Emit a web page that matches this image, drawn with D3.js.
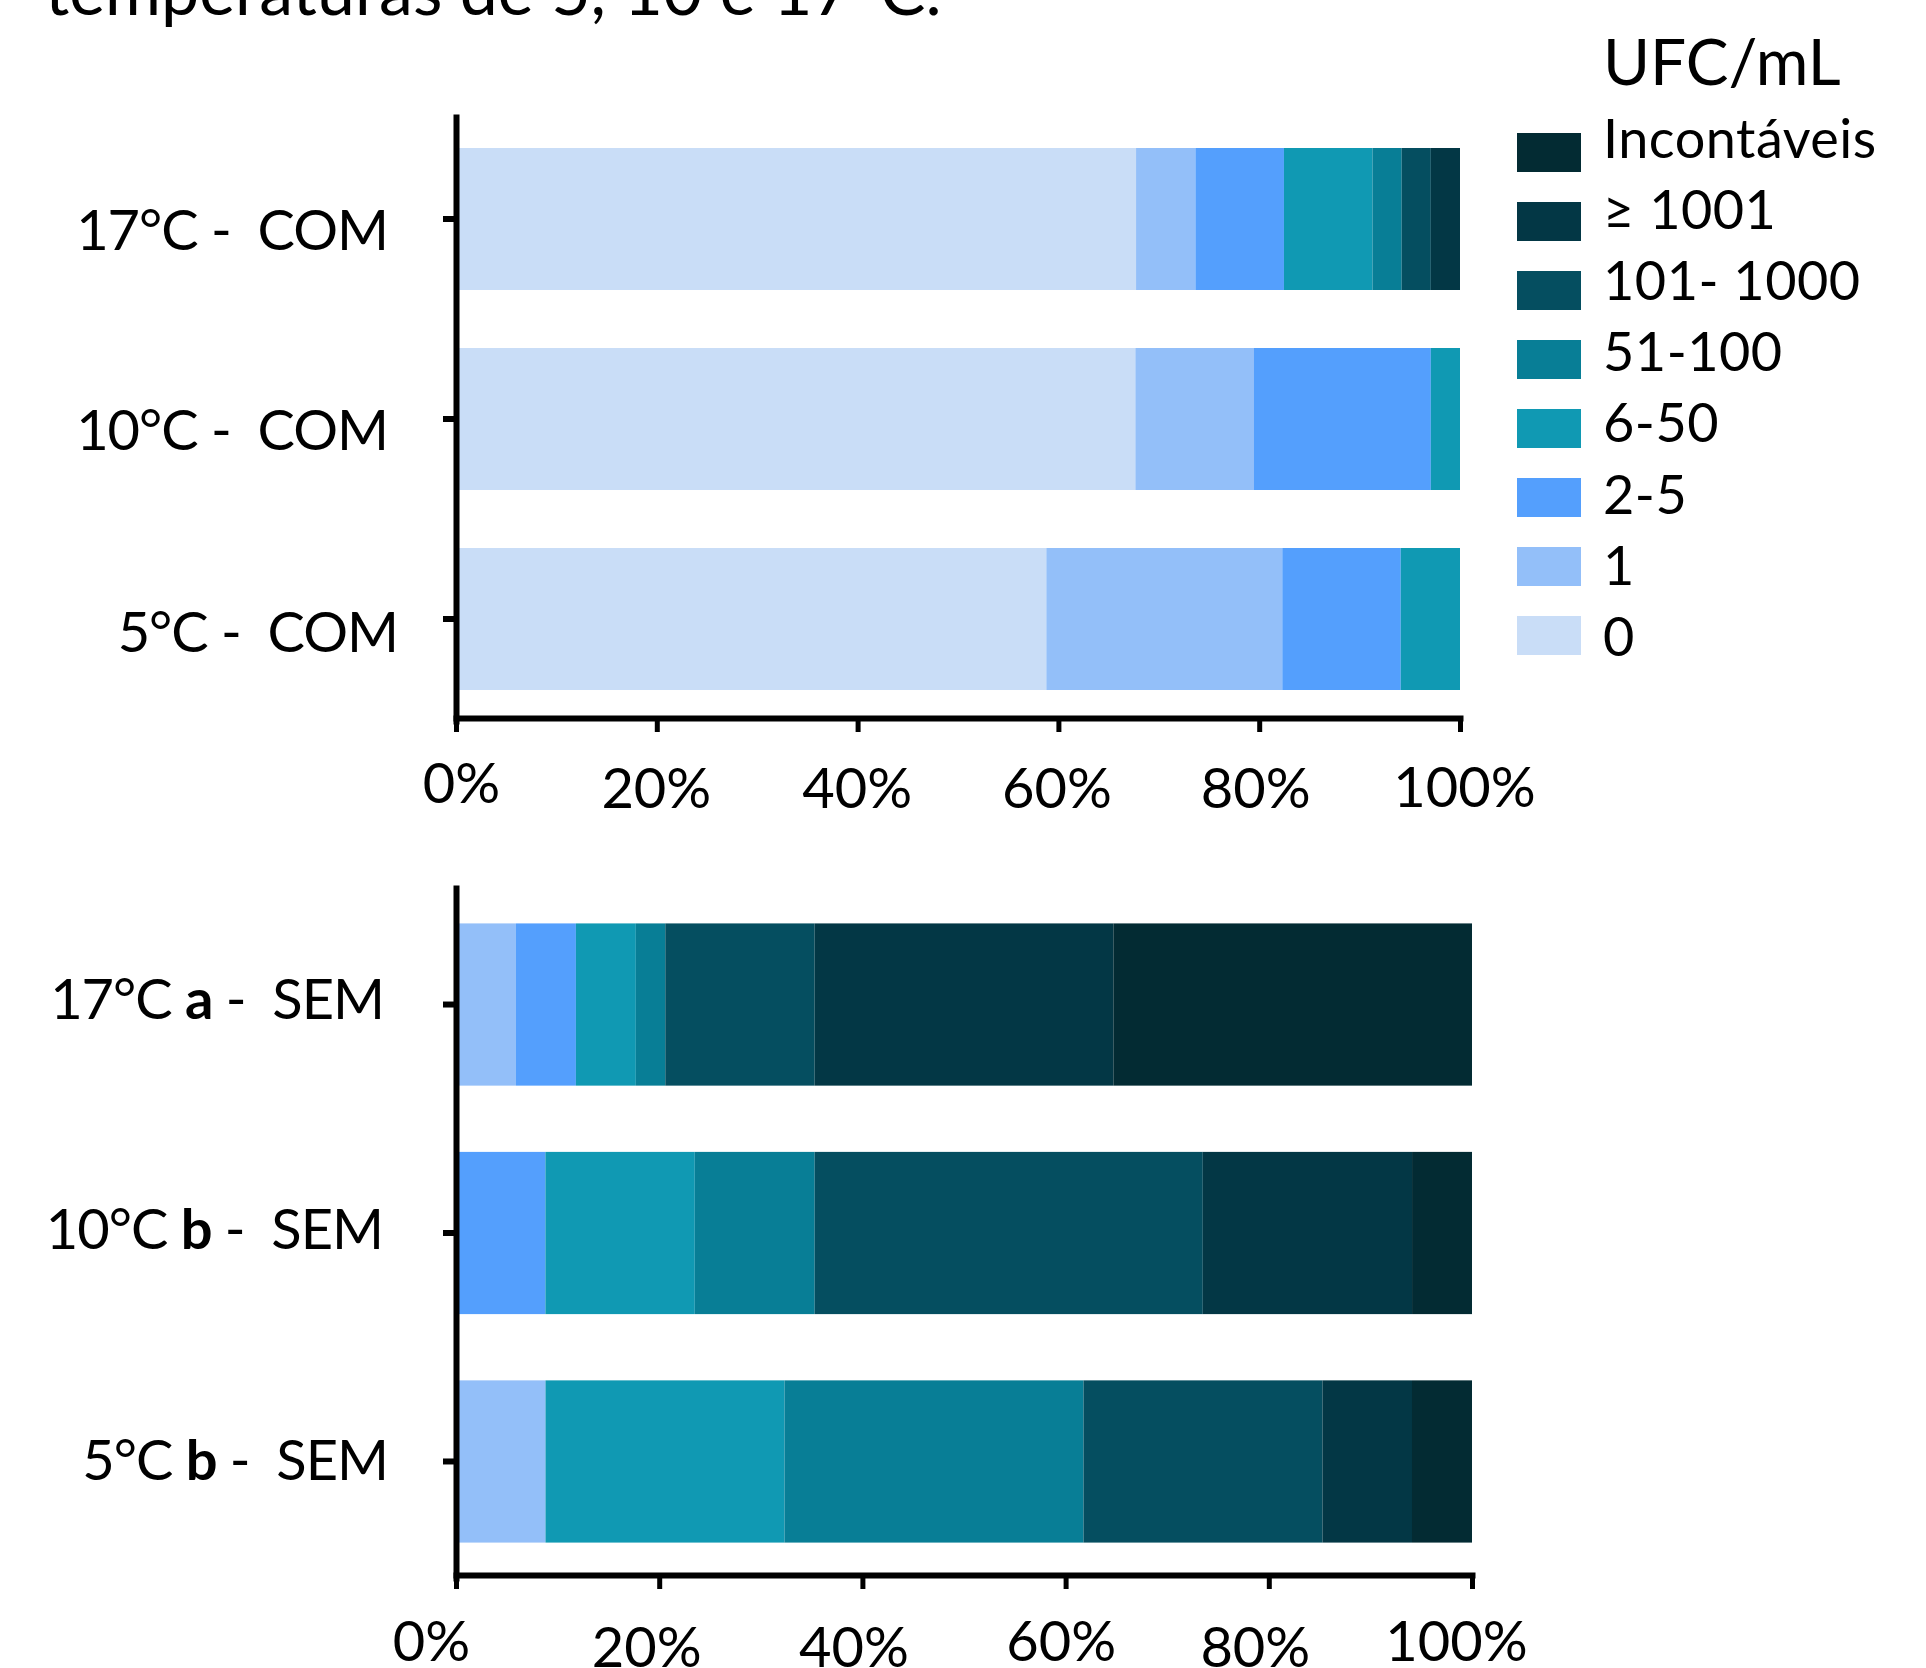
<!DOCTYPE html>
<html>
<head>
<meta charset="utf-8">
<script src="https://cdn.jsdelivr.net/npm/d3@7"></script>
<style>
  html, body { margin: 0; padding: 0; background: #fff; }
  svg { display: block; font-family: Lato, "Open Sans", sans-serif; }
  text { white-space: pre; }
</style>
</head>
<body>
<svg id="chart" width="1926" height="1668"></svg>
<script>
// UFC/mL count classes, lowest to highest
const classes = ["0", "1", "2-5", "6-50", "51-100", "101- 1000", "≥ 1001", "Incontáveis"];
const classColors = ["#c9ddf7", "#93bff9", "#549ffd", "#1099b3", "#087e96", "#054e60", "#033745", "#032b33"];

// Percentage of samples per class — COM
const comTemps = ["17°C", "10°C", "5°C"];
const com17 = [67.6, 5.9, 8.8, 8.8, 2.9, 2.9, 2.9, 0];
const com10 = [67.6, 11.8, 17.6, 2.9, 0, 0, 0, 0];
const com5  = [58.8, 23.5, 11.8, 5.9, 0, 0, 0, 0];

// Percentage of samples per class — SEM
const semTemps = ["17°C", "10°C", "5°C"];
const semGroups = ["a", "b", "b"];
const sem17 = [0, 5.9, 5.9, 5.9, 2.9, 14.7, 29.4, 35.3];
const sem10 = [0, 0, 8.8, 14.7, 11.8, 38.2, 20.6, 5.9];
const sem5  = [0, 8.8, 0, 23.5, 29.4, 23.5, 8.8, 5.9];

const percentTicks = [0, 0.2, 0.4, 0.6, 0.8, 1];

const svg = d3.select("#chart");
const color = d3.scaleOrdinal().domain(classes).range(classColors);

function toRow(id, temp, group, suffix, values) {
  const row = { id, temp, group, suffix };
  classes.forEach((c, i) => { row[c] = values[i]; });
  return row;
}

const comRows = [
  toRow("com17", comTemps[0], "", "COM", com17),
  toRow("com10", comTemps[1], "", "COM", com10),
  toRow("com5",  comTemps[2], "", "COM", com5)
];
const semRows = [
  toRow("sem17", semTemps[0], semGroups[0], "SEM", sem17),
  toRow("sem10", semTemps[1], semGroups[1], "SEM", sem10),
  toRow("sem5",  semTemps[2], semGroups[2], "SEM", sem5)
];

const stack = d3.stack().keys(classes).offset(d3.stackOffsetExpand);

function drawPanel(rows, cfg) {
  const x = d3.scaleLinear().domain([0, 1]).range(cfg.xRange);
  const y = d3.scaleBand().domain(rows.map(r => r.id)).range(cfg.yRange)
    .paddingInner(0.29).paddingOuter(0.155);
  const g = svg.append("g");

  // stacked segments
  const series = stack(rows);
  g.selectAll("g.layer").data(series).join("g")
    .attr("class", "layer")
    .attr("fill", d => color(d.key))
    .selectAll("rect").data(d => d).join("rect")
      .attr("x", d => x(d[0]))
      .attr("width", d => Math.max(0, x(d[1]) - x(d[0])))
      .attr("y", d => y(d.data.id))
      .attr("height", y.bandwidth());

  // category labels
  rows.forEach((r, i) => {
    const t = g.append("text")
      .attr("x", x(0) + cfg.labelDx[i])
      .attr("y", y(r.id) + y.bandwidth() / 2 + cfg.labelDy[i])
      .attr("text-anchor", "end")
      .attr("font-size", 56)
      .attr("letter-spacing", -1)
      .attr("fill", "#000");
    t.append("tspan").text(r.temp + " ");
    if (r.group) {
      t.append("tspan").attr("font-weight", "bold").text(r.group);
      t.append("tspan").text(" -  " + r.suffix);
    } else {
      t.append("tspan").text("-  " + r.suffix);
    }
  });

  // y axis
  const yAxis = g.append("g")
    .attr("transform", `translate(${x(0)},0)`)
    .call(d3.axisLeft(y).tickSize(13).tickSizeOuter(0).tickFormat(""));
  yAxis.select(".domain").attr("stroke", "#000").attr("stroke-width", 6).attr("stroke-linecap", "square");
  yAxis.selectAll(".tick line").attr("stroke", "#000").attr("stroke-width", 6);

  // x axis
  const xAxis = g.append("g")
    .attr("transform", `translate(0,${cfg.yRange[1] - 3})`)
    .call(d3.axisBottom(x).tickValues(percentTicks).tickFormat(d3.format(".0%"))
      .tickSize(14).tickSizeOuter(0));
  xAxis.select(".domain").attr("stroke", "#000").attr("stroke-width", 6).attr("stroke-linecap", "square");
  xAxis.selectAll(".tick line").attr("stroke", "#000").attr("stroke-width", 5);
  xAxis.selectAll(".tick text")
    .attr("font-family", "Lato, 'Open Sans', sans-serif")
    .attr("font-size", 56)
    .attr("fill", "#000")
    .attr("dy", null)
    .attr("y", (d, i) => 90 + cfg.tickDy[i])
    .attr("dx", (d, i) => cfg.tickDx[i]);
}

drawPanel(comRows, {
  xRange: [456, 1460],
  yRange: [117, 721],
  labelDx: [-68, -68, -58],
  labelDy: [31, 31, 33],
  tickDx: [5, -1, -1, -2, -4, 4],
  tickDy: [-5, 0, 0, 0, 0, -1]
});

drawPanel(semRows, {
  xRange: [456, 1472],
  yRange: [888, 1578],
  labelDx: [-72, -73, -68],
  labelDy: [14, 16, 19],
  tickDx: [-25, -13, -9, -5, -14, -16],
  tickDy: [-4, 2, 2, -4, 2, -4]
});

// heading (partly outside the canvas)
svg.append("text")
  .attr("x", 45).attr("y", 15)
  .attr("font-size", 68)
  .attr("fill", "#000")
  .text("temperaturas de 5, 10 e 17°C.");

// legend
const legend = svg.append("g");
legend.append("text")
  .attr("x", 1603).attr("y", 85)
  .attr("font-size", 64).attr("fill", "#000")
  .text("UFC/mL");

const legendOrder = classes.slice().reverse();
const swatchY = d3.scaleLinear().domain([0, 1]).range([133, 202]);
const labelY = d3.scaleLinear().domain([0, 1]).range([158, 229.1]);

legend.selectAll("rect.sw").data(legendOrder).join("rect")
  .attr("class", "sw")
  .attr("x", 1517).attr("width", 64)
  .attr("y", (d, i) => swatchY(i)).attr("height", 39)
  .attr("fill", d => color(d));

legend.selectAll("text.lab").data(legendOrder).join("text")
  .attr("class", "lab")
  .attr("x", 1603)
  .attr("y", (d, i) => labelY(i))
  .attr("font-size", 54)
  .attr("letter-spacing", 0.5)
  .attr("fill", "#000")
  .text(d => d);
</script>
</body>
</html>
